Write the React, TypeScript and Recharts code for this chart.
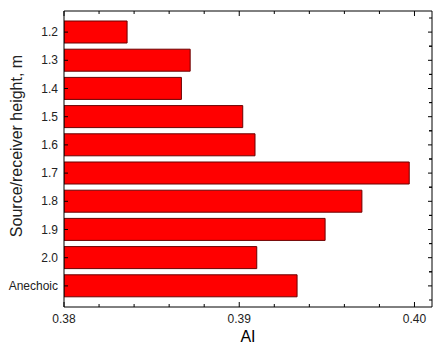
import { BarChart, Bar, XAxis, YAxis } from "recharts";

const categorias = ["1.2", "1.3", "1.4", "1.5", "1.6", "1.7", "1.8", "1.9", "2.0", "Anechoic"];
const valoresAI = [0.3836, 0.3872, 0.3867, 0.3902, 0.3909, 0.3997, 0.397, 0.3949, 0.391, 0.3933];
const ticksX = [0.38, 0.382, 0.384, 0.386, 0.388, 0.39, 0.392, 0.394, 0.396, 0.398, 0.4];

const FONTE = "'Liberation Sans', Arial, sans-serif";
const COR_TEXTO = "#222";

const dados = categorias.map((categoria, i) => ({ categoria, ai: valoresAI[i] }));

const ehPrincipal = (v: number) => Math.abs(v * 100 - Math.round(v * 100)) < 1e-6;

function TickBaixo({ x, y, payload }: any) {
  const principal = ehPrincipal(payload.value);
  return (
    <g>
      <line x1={x} x2={x} y1={y} y2={y - (principal ? 5 : 3)} stroke="#000" />
      {principal && (
        <text x={x} y={y + 16} textAnchor="middle" fontSize={12} fill={COR_TEXTO} fontFamily={FONTE}>
          {payload.value.toFixed(2)}
        </text>
      )}
    </g>
  );
}

function TickTopo({ x, y, payload }: any) {
  const principal = ehPrincipal(payload.value);
  return <line x1={x} x2={x} y1={y} y2={y + (principal ? 5 : 3)} stroke="#000" />;
}

function TickEsquerda({ x, y, payload }: any) {
  return (
    <g>
      <line x1={x} x2={x + 4} y1={y} y2={y} stroke="#000" />
      <text x={x - 6} y={y + 4} textAnchor="end" fontSize={12} fill={COR_TEXTO} fontFamily={FONTE}>
        {payload.value}
      </text>
    </g>
  );
}

function TickDireita({ x, y, payload }: any) {
  const meio = payload.offset || 14.1;
  return (
    <g>
      <line x1={x} x2={x - 4} y1={y} y2={y} stroke="#000" />
      <line x1={x} x2={x - 3} y1={y - meio} y2={y - meio} stroke="#000" />
      <line x1={x} x2={x - 3} y1={y + meio} y2={y + meio} stroke="#000" />
    </g>
  );
}

export default function App() {
  return (
    <div style={{ position: "absolute", left: 0, top: 0, background: "#fff" }}>
      <BarChart
        width={440}
        height={346}
        data={dados}
        layout="vertical"
        margin={{ top: 1, right: 0, left: 0, bottom: 0 }}
      >
        <XAxis
          type="number"
          dataKey="ai"
          domain={[0.38, 0.401]}
          ticks={ticksX}
          interval={0}
          allowDataOverflow
          height={39}
          tickSize={0}
          tickMargin={0}
          tickLine={false}
          tick={<TickBaixo />}
          axisLine={{ stroke: "#000" }}
          label={{
            content: () => (
              <text x={248} y={342} textAnchor="middle" fontSize={16} fill="#000" fontFamily={FONTE}>
                AI
              </text>
            ),
          }}
        />
        <XAxis
          xAxisId="topo"
          orientation="top"
          type="number"
          domain={[0.38, 0.401]}
          ticks={ticksX}
          interval={0}
          allowDataOverflow
          height={10}
          tickSize={0}
          tickMargin={0}
          tickLine={false}
          tick={<TickTopo />}
          axisLine={{ stroke: "#000" }}
        />
        <YAxis
          type="category"
          dataKey="categoria"
          width={64}
          interval={0}
          padding={{ top: 7, bottom: 7 }}
          tickSize={0}
          tickMargin={0}
          tickLine={false}
          tick={<TickEsquerda />}
          axisLine={{ stroke: "#000" }}
          label={{
            content: () => (
              <text
                x={22}
                y={146}
                transform="rotate(-90 22 146)"
                textAnchor="middle"
                fontSize={16}
                fill={COR_TEXTO}
                fontFamily={FONTE}
              >
                Source/receiver height, m
              </text>
            ),
          }}
        />
        <YAxis
          yAxisId="direita"
          orientation="right"
          type="category"
          dataKey="categoria"
          width={8}
          interval={0}
          padding={{ top: 7, bottom: 7 }}
          tickSize={0}
          tickMargin={0}
          tickLine={false}
          tick={<TickDireita />}
          axisLine={{ stroke: "#000" }}
        />
        <Bar
          dataKey="ai"
          barSize={22}
          fill="#ff0000"
          stroke="#6a0000"
          strokeWidth={1}
          isAnimationActive={false}
        />
      </BarChart>
    </div>
  );
}
